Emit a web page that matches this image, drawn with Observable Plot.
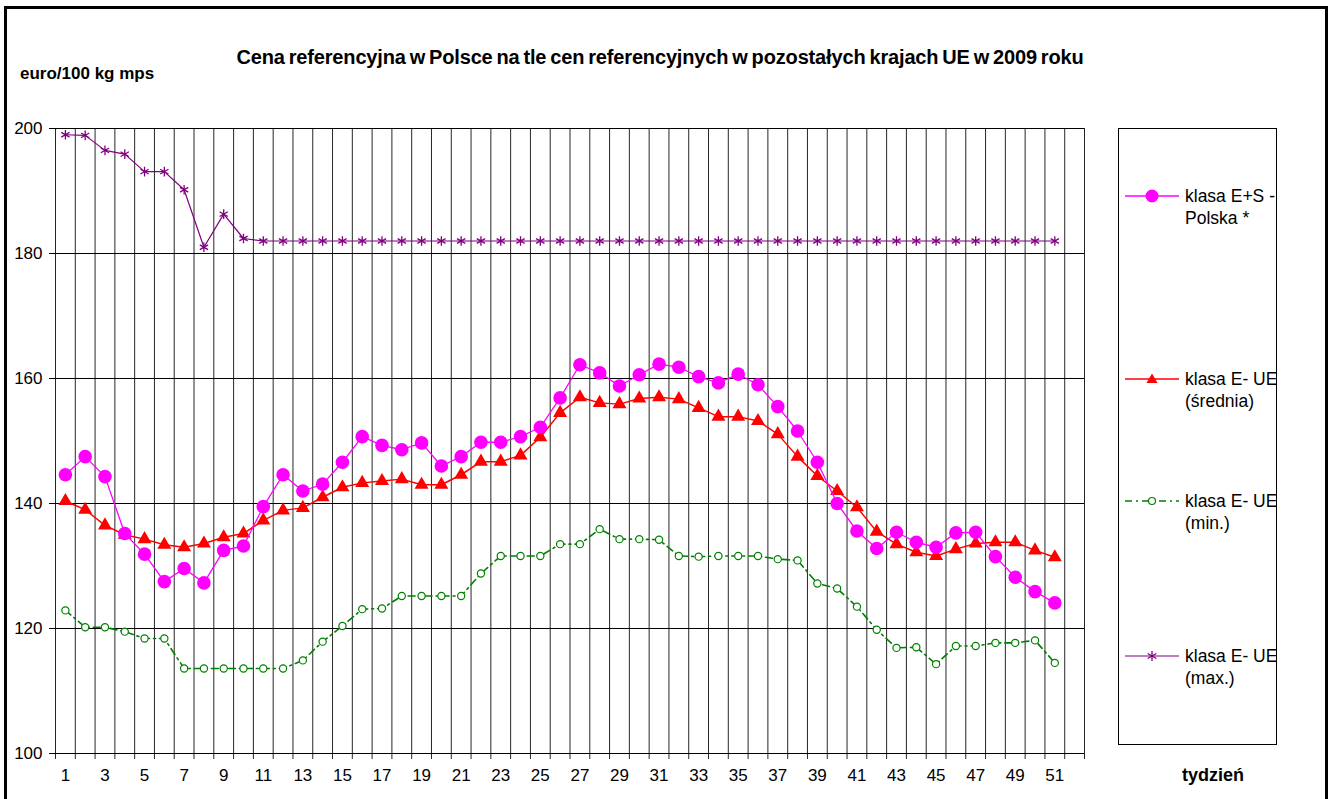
<!DOCTYPE html>
<html>
<head>
<meta charset="utf-8">
<script src="https://cdn.jsdelivr.net/npm/d3@7"></script>
<script src="https://cdn.jsdelivr.net/npm/@observablehq/plot@0.6"></script>
<style>
  html, body { margin: 0; padding: 0; background: #fff; }
  #wrap { position: relative; width: 1332px; height: 799px; overflow: hidden; font-family: "Liberation Sans", Arial, sans-serif; }
  #frame { position: absolute; left: 4px; top: 6px; width: 1324px; height: 820px; border: 3px solid #000; box-sizing: border-box; pointer-events: none; }
  #chart { position: absolute; left: 0; top: 0; }
  #title { position: absolute; left: 0; width: 1320px; top: 46px; text-align: center; font-weight: bold; font-size: 20px; letter-spacing: -0.15px; word-spacing: -1.5px; white-space: nowrap; }
  #ylabel { position: absolute; left: 20px; top: 64px; font-weight: bold; font-size: 17px; white-space: nowrap; }
  #xlabel { position: absolute; left: 1182px; top: 765px; font-weight: bold; font-size: 18px; }
  #legend { position: absolute; left: 1118px; top: 128px; width: 159px; height: 617px; border: 1px solid #000; box-sizing: border-box; }
  .item { position: absolute; left: 6px; }
  .item svg { position: absolute; left: 0; top: 0; }
  .item .lbl { position: absolute; left: 60px; top: 0; font-size: 17.5px; line-height: 22px; white-space: nowrap; }
</style>
</head>
<body>
<div id="wrap">
  <div id="chart"></div>
  <div id="title">Cena referencyjna w Polsce na tle cen referencyjnych w pozostałych krajach UE w 2009 roku</div>
  <div id="ylabel">euro/100 kg mps</div>
  <div id="xlabel">tydzień</div>
  <div id="legend"></div>
  <div id="frame"></div>
</div>
<script>
// ---- data ----
const weeks = [1,2,3,4,5,6,7,8,9,10,11,12,13,14,15,16,17,18,19,20,21,22,23,24,25,26,27,28,29,30,31,32,33,34,35,36,37,38,39,40,41,42,43,44,45,46,47,48,49,50,51];
const xTickLabels = [1,3,5,7,9,11,13,15,17,19,21,23,25,27,29,31,33,35,37,39,41,43,45,47,49,51];
const yTicks = [100,120,140,160,180,200];
const weekCount = 52; // category slots on the axis (last one empty)

const polska = [144.6,147.5,144.3,135.2,131.9,127.5,129.6,127.3,132.5,133.2,
  139.5,144.6,142.0,143.1,146.6,150.7,149.3,148.6,149.7,146.0,
  147.5,149.8,149.8,150.7,152.2,156.9,162.2,160.9,158.8,160.6,
  162.3,161.8,160.3,159.3,160.7,159.0,155.5,151.6,146.6,140.0,
  135.6,132.8,135.4,133.8,133.0,135.3,135.4,131.5,128.2,125.9,124.1];
const srednia = [140.4,139.0,136.5,135.0,134.3,133.4,133.0,133.6,134.6,135.2,
  137.3,138.9,139.3,141.0,142.6,143.3,143.6,143.9,143.0,143.0,
  144.6,146.7,146.7,147.7,150.6,154.5,157.0,156.1,155.9,156.8,
  157.0,156.7,155.3,153.9,153.9,153.2,151.1,147.5,144.4,142.0,
  139.4,135.5,133.5,132.2,131.6,132.7,133.6,133.8,133.8,132.5,131.4];
const minimum = [122.9,120.2,120.2,119.5,118.4,118.4,113.6,113.6,113.6,113.6,
  113.6,113.6,114.9,117.9,120.4,123.1,123.2,125.2,125.2,125.2,
  125.2,128.8,131.6,131.6,131.6,133.5,133.5,135.9,134.3,134.3,
  134.2,131.6,131.5,131.6,131.6,131.6,131.1,130.9,127.2,126.4,
  123.5,119.8,116.9,117.0,114.3,117.2,117.2,117.7,117.7,118.1,114.5];
const maximum = [199.0,198.9,196.5,195.9,193.1,193.1,190.2,181.0,186.3,182.4,
  182.0,182.0,182.0,182.0,182.0,182.0,182.0,182.0,182.0,182.0,
  182.0,182.0,182.0,182.0,182.0,182.0,182.0,182.0,182.0,182.0,
  182.0,182.0,182.0,182.0,182.0,182.0,182.0,182.0,182.0,182.0,
  182.0,182.0,182.0,182.0,182.0,182.0,182.0,182.0,182.0,182.0,182.0];

const seriesNames = ["klasa E+S -\nPolska *", "klasa E- UE\n(średnia)", "klasa E- UE\n(min.)", "klasa E- UE\n(max.)"];
const seriesColors = ["#FF00FF", "#FF0000", "#008000", "#800080"];

// ---- table ----
const rows = weeks.map((w, i) => ({week: w, polska: polska[i], srednia: srednia[i], minimum: minimum[i], maximum: maximum[i]}));
const boundaries = d3.range(0, weekCount + 1).map(k => k + 0.5);

const chart = Plot.plot({
  width: 1332,
  height: 799,
  marginLeft: 55,
  marginRight: 248,
  marginTop: 128,
  marginBottom: 46,
  x: {domain: [0.5, weekCount + 0.5]},
  y: {domain: [100, 200]},
  style: {fontFamily: "'Liberation Sans', Arial, sans-serif", fontSize: "17px", background: "transparent", color: "#000"},
  marks: [
    Plot.ruleX(boundaries, {x: d => d, stroke: "#000", strokeOpacity: 0.85, strokeWidth: 1, insetBottom: -6}),
    Plot.ruleY(yTicks, {y: d => d, stroke: "#000", strokeWidth: 1, insetLeft: -6}),
    Plot.axisY(yTicks, {tickSize: 0, tickPadding: 13, label: null, fontSize: 17}),
    Plot.axisX(xTickLabels, {tickSize: 0, tickPadding: 15, label: null, fontSize: 17}),
    // max
    Plot.line(rows, {x: "week", y: "maximum", stroke: seriesColors[3], strokeWidth: 1.2}),
    Plot.dot(rows, {x: "week", y: "maximum", symbol: "asterisk", r: 4.5, stroke: seriesColors[3], strokeWidth: 1.3}),
    // min
    Plot.line(rows, {x: "week", y: "minimum", stroke: seriesColors[2], strokeWidth: 1.6, strokeDasharray: "7,4,2,4"}),
    Plot.dot(rows, {x: "week", y: "minimum", r: 3.6, stroke: seriesColors[2], fill: "#fff", strokeWidth: 1.2}),
    // srednia
    Plot.line(rows, {x: "week", y: "srednia", stroke: seriesColors[1], strokeWidth: 1.5}),
    Plot.dot(rows, {x: "week", y: "srednia", symbol: "triangle", r: 5.2, fill: seriesColors[1], stroke: "none"}),
    // polska
    Plot.line(rows, {x: "week", y: "polska", stroke: seriesColors[0], strokeWidth: 1.3}),
    Plot.dot(rows, {x: "week", y: "polska", r: 6.8, fill: seriesColors[0], stroke: "none"})
  ]
});
document.getElementById("chart").appendChild(chart);

// ---- legend ----
const legend = document.getElementById("legend");
const legendTops = [56, 239, 361, 516];
const swatches = [
  `<line x1="0" y1="11" x2="54" y2="11" stroke="#FF00FF" stroke-width="1.3"/><circle cx="27" cy="11" r="6.5" fill="#FF00FF"/>`,
  `<line x1="0" y1="11" x2="54" y2="11" stroke="#FF0000" stroke-width="1.5"/><path d="M27,5.5 L32.5,15 L21.5,15 Z" fill="#FF0000"/>`,
  `<line x1="0" y1="11" x2="54" y2="11" stroke="#008000" stroke-width="1.6" stroke-dasharray="7,4,2,4"/><circle cx="27" cy="11" r="3.5" fill="#fff" stroke="#008000" stroke-width="1.2"/>`,
  `<line x1="0" y1="11" x2="54" y2="11" stroke="#800080" stroke-width="1.2"/><g stroke="#800080" stroke-width="1.3"><line x1="27" y1="6" x2="27" y2="16"/><line x1="22.7" y1="8.5" x2="31.3" y2="13.5"/><line x1="22.7" y1="13.5" x2="31.3" y2="8.5"/></g>`
];
seriesNames.forEach((name, i) => {
  const item = document.createElement("div");
  item.className = "item";
  item.style.top = legendTops[i] + "px";
  item.innerHTML = `<svg width="56" height="22">${swatches[i]}</svg><div class="lbl">${name.replace("\n", "<br>")}</div>`;
  legend.appendChild(item);
});
</script>
</body>
</html>
